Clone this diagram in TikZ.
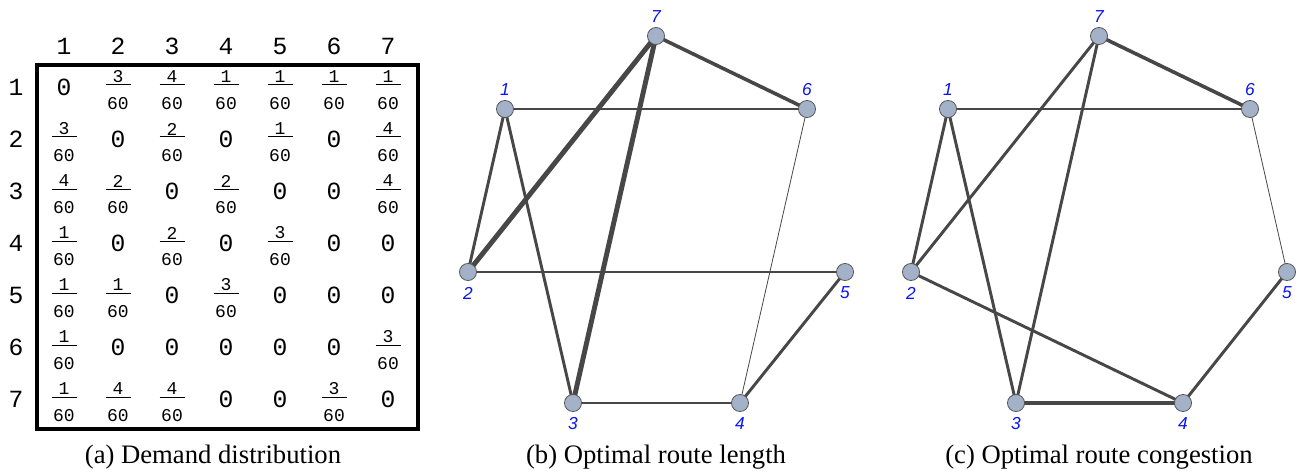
\documentclass[tikz,border=0pt]{standalone}
\usepackage{fontspec}
\setmainfont{Liberation Serif}
\newfontfamily\monof{Liberation Mono}
\newfontfamily\labf{Liberation Sans}
\definecolor{nodefill}{HTML}{A3B1C9}
\definecolor{nodeline}{HTML}{555555}
\definecolor{edgecol}{HTML}{474747}
\definecolor{labblue}{HTML}{0A14F0}
\begin{document}
\begin{tikzpicture}[x=0.75pt,y=-0.75pt,
  vtx/.style={circle,fill=nodefill,draw=nodeline,line width=0.6pt,minimum size=12.8pt,inner sep=0pt},
  vlab/.style={font=\labf\itshape\fontsize{13}{14}\selectfont,text=labblue,inner sep=0pt},
  hdr/.style={font=\monof\fontsize{18.5}{19}\selectfont,inner sep=0pt},
  zero/.style={font=\monof\fontsize{18.5}{19}\selectfont,inner sep=0pt},
  frc/.style={font=\monof\fontsize{13.5}{14}\selectfont,inner sep=0pt},
  captext/.style={font=\fontsize{20}{22}\selectfont,inner sep=0pt,anchor=base},
  ed/.style={draw=edgecol,line cap=round},
  w1/.style={ed,line width=0.6pt},
  w2/.style={ed,line width=1.5pt},
  w3/.style={ed,line width=2.2pt},
  w4/.style={ed,line width=2.7pt},
  w5/.style={ed,line width=3.7pt}]
\useasboundingbox (0,0) rectangle (1302,474);
% ---------- (a) matrix ----------
\foreach \j in {1,...,7}{
  \node[hdr] (ch\j) at ({64+54*(\j-1)},46) {\j};
  \node[hdr] (rh\j) at (16,{87+52*(\j-1)}) {\j};
}
\draw[line width=2.3pt] (37,65) rectangle (418,429);
% entries: row, col, numerator (0 = zero)
\foreach \r/\c/\n in {
 1/1/0,1/2/3,1/3/4,1/4/1,1/5/1,1/6/1,1/7/1,
 2/1/3,2/2/0,2/3/2,2/4/0,2/5/1,2/6/0,2/7/4,
 3/1/4,3/2/2,3/3/0,3/4/2,3/5/0,3/6/0,3/7/4,
 4/1/1,4/2/0,4/3/2,4/4/0,4/5/3,4/6/0,4/7/0,
 5/1/1,5/2/1,5/3/0,5/4/3,5/5/0,5/6/0,5/7/0,
 6/1/1,6/2/0,6/3/0,6/4/0,6/5/0,6/6/0,6/7/3,
 7/1/1,7/2/4,7/3/4,7/4/0,7/5/0,7/6/3,7/7/0}{
  \pgfmathsetmacro{\cx}{64+54*(\c-1)}
  \pgfmathsetmacro{\cy}{87+52*(\r-1)}
  \ifnum\n=0
    \node[zero] (m\r\c) at (\cx,\cy) {0};
  \else
    \node[frc] (m\r\c) at (\cx,\cy-10) {\n};
    \node[frc] (d\r\c) at (\cx,\cy+17) {60};
    \draw[line width=0.75pt] (\cx-12.5,\cy-2) -- (\cx+12.5,\cy-2);
  \fi
}
\node[captext] (capa) at (213,463) {(a) Demand distribution};
% ---------- (b) ----------
\begin{scope}
\coordinate (b7) at (656,36);
\coordinate (b1) at (505,109);
\coordinate (b6) at (807,109);
\coordinate (b2) at (468,272);
\coordinate (b5) at (845,272);
\coordinate (b3) at (573,403);
\coordinate (b4) at (740,403);
\draw[w4] (b7) -- (b6);
\draw[w5] (b7) -- (b2);
\draw[w5] (b7) -- (b3);
\draw[w3] (b1) -- (b6);
\draw[w3] (b1) -- (b2);
\draw[w3] (b1) -- (b3);
\draw[w2] (b2) -- (b5);
\draw[w1] (b6) -- (b4);
\draw[w3] (b5) -- (b4);
\draw[w2] (b3) -- (b4);
\foreach \k in {1,...,7}{\node[vtx] (nb\k) at (b\k) {};}
\node[vlab] (lb7) at (656,17) {7};
\node[vlab] (lb1) at (505,90) {1};
\node[vlab] (lb6) at (807,90) {6};
\node[vlab] (lb2) at (468,293) {2};
\node[vlab] (lb5) at (845,293) {5};
\node[vlab] (lb3) at (573,424) {3};
\node[vlab] (lb4) at (740,424) {4};
\node[captext] (capb) at (656,463) {(b) Optimal route length};
\end{scope}
% ---------- (c) ----------
\begin{scope}
\coordinate (c7) at (1099,36);
\coordinate (c1) at (948,109);
\coordinate (c6) at (1250,109);
\coordinate (c2) at (911,272);
\coordinate (c5) at (1287,272);
\coordinate (c3) at (1016,403);
\coordinate (c4) at (1183,403);
\draw[w4] (c7) -- (c6);
\draw[w3] (c7) -- (c2);
\draw[w3] (c7) -- (c3);
\draw[w3] (c1) -- (c6);
\draw[w3] (c1) -- (c2);
\draw[w3] (c1) -- (c3);
\draw[w3] (c2) -- (c4);
\draw[w1] (c6) -- (c5);
\draw[w3] (c5) -- (c4);
\draw[w4] (c3) -- (c4);
\foreach \k in {1,...,7}{\node[vtx] (nc\k) at (c\k) {};}
\node[vlab] (lc7) at (1099,17) {7};
\node[vlab] (lc1) at (948,90) {1};
\node[vlab] (lc6) at (1250,90) {6};
\node[vlab] (lc2) at (911,293) {2};
\node[vlab] (lc5) at (1287,293) {5};
\node[vlab] (lc3) at (1016,424) {3};
\node[vlab] (lc4) at (1183,424) {4};
\node[captext] (capc) at (1099,463) {(c) Optimal route congestion};
\end{scope}
\end{tikzpicture}
\end{document}
